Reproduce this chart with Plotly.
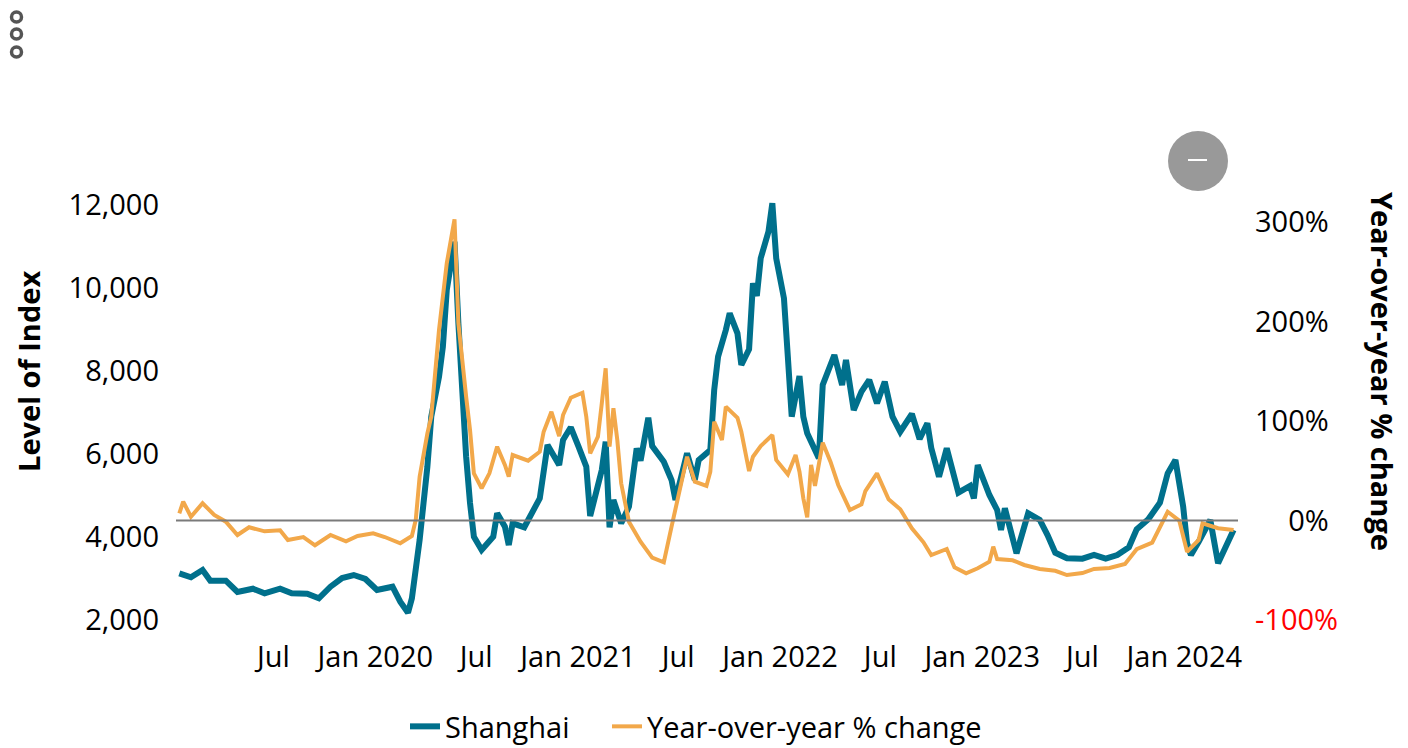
import pandas as pd
import plotly.graph_objects as go

FIRST_OBSERVATION = "2019-01-12"

# Weekly index readings: weeks counted from the first observation.
shanghai_weeks = [0,3,6,8,12,15,19,22,26,29,33,36,39,42,45,48,51,55,57,59,60,61,62,64,65,67,68,69,71,72,73,74,75,76,78,81,82,84,85,86,89,93,95,98,99,101,103,105,106,109,110,111,112,114,116,118,119,121,122,125,127,128,131,133,134,137,138,139,141,142,144,145,147,148,149,150,152,153,154,156,157,158,160,161,162,165,166,169,171,172,174,176,178,180,182,184,186,189,191,193,194,196,198,201,204,205,206,209,211,212,213,216,219,222,224,226,229,233,236,239,242,245,247,250,253,255,257,259,260,261,263,265,266,268,272]
shanghai_index = [3125,3029,3205,2947,2947,2675,2754,2643,2754,2643,2634,2523,2802,3012,3084,2988,2723,2802,2441,2176,2523,3205,3928,5694,6899,7863,8586,9952,11116,9149,7229,5935,4819,4007,3687,4007,4571,4248,3807,4330,4234,4932,6217,5735,6337,6643,6176,5694,4506,5614,6296,4234,4892,4330,4730,6137,5839,6875,6193,5814,5373,4892,6017,5373,5855,6096,7542,8344,8988,9390,8908,8144,8523,10113,9807,10716,11357,12041,10716,9752,8344,6899,7880,6899,6499,5896,7663,8385,7663,8265,7060,7501,7783,7222,7742,6899,6537,6964,6361,6740,6145,5453,6137,5067,5229,4932,5735,5012,4651,4169,4692,3607,4571,4410,4048,3622,3487,3477,3566,3477,3566,3752,4186,4427,4827,5535,5855,4730,3848,3566,3887,4248,4410,3366,4169]

# Year-over-year change in percent, on its own weekly index.
yoy_weeks = [0,1,3,6,9,12,15,18,22,26,28,32,35,39,43,46,50,53,57,60,61,62,64,65,67,69,71,72,74,75,76,78,80,82,84,85,86,90,93,94,96,98,99,101,104,105,106,108,109,110,111,112,113,114,116,119,122,125,127,129,131,133,136,137,138,140,141,144,145,147,148,150,153,154,157,159,160,161,162,163,164,166,168,170,173,176,177,180,183,186,189,192,194,198,200,203,206,209,210,211,215,218,222,226,229,233,236,240,244,247,251,255,258,260,263,264,268,272]
yoy_change = [7.2,18.9,3.8,17.3,5.5,-1.2,-14.6,-6.8,-10.9,-9.8,-19.6,-16.6,-24.9,-14.6,-20.9,-15.6,-12.9,-16.6,-22.9,-15.6,0.5,44,87.6,104.3,191.5,258.5,302.7,198.2,124.4,91,47.4,32.4,47.4,74.2,55.8,44,65.8,60.1,69.1,89.2,109.3,84.9,106,123.4,128.4,104.3,67.5,84.2,117.8,153,74.2,112.8,80.9,37.4,-1.2,-21.3,-37.4,-42,-6.2,30.7,64.1,39,34.7,49,99.3,80.9,114.4,103.3,89.2,49.7,64.1,74.9,85.9,60.8,46.4,65.8,49,22.3,3.2,55.8,34.7,78.2,59.1,35.7,10.6,16.3,29.6,47.4,21.3,11.3,-7.8,-21.9,-34.7,-28.6,-47,-53.1,-48,-41.4,-26.3,-38.7,-40,-44.7,-48.7,-50.5,-54.8,-52.8,-48.7,-47.7,-43.7,-28.9,-22.3,8.8,-0.2,-31.4,-19.6,-2.8,-7.8,-9.5]

date_ticks = ["2019-07-01","2020-01-01","2020-07-01","2021-01-01","2021-07-01","2022-01-01","2022-07-01","2023-01-01","2023-07-01","2024-01-01"]
date_labels = ["Jul","Jan 2020","Jul","Jan 2021","Jul","Jan 2022","Jul","Jan 2023","Jul","Jan 2024"]
index_ticks = [2000,4000,6000,8000,10000,12000]
index_labels = ["2,000","4,000","6,000","8,000","10,000","12,000"]
change_ticks = [-100,0,100,200,300]
change_labels = ['<span style="color:#ff0000">-100%</span>',"\u2007\u20070%","100%","200%","300%"]

WIDTH, HEIGHT = 1408, 748
PLOT_LEFT, PLOT_RIGHT, PLOT_TOP, PLOT_BOTTOM = 176, 1238, 200, 620
TEAL, AMBER, GREY = "#00708c", "#f2a84a", "#7a7a7a"
FONT = "Open Sans"
TEXT_SIZE = 29


def px(x):
    """Page pixel column to paper coordinate."""
    return (x - PLOT_LEFT) / (PLOT_RIGHT - PLOT_LEFT)


def py(y):
    """Page pixel row to paper coordinate."""
    return (PLOT_BOTTOM - y) / (PLOT_BOTTOM - PLOT_TOP)


def weekly_dates(weeks):
    return pd.Timestamp(FIRST_OBSERVATION) + pd.to_timedelta(weeks, unit="W")


fig = go.Figure()
fig.add_trace(go.Scatter(x=weekly_dates(shanghai_weeks), y=shanghai_index, mode="lines", name="Shanghai",
                         line=dict(color=TEAL, width=6), legend="legend"))
fig.add_trace(go.Scatter(x=weekly_dates(yoy_weeks), y=yoy_change, mode="lines", name="Year-over-year % change",
                         line=dict(color=AMBER, width=4), yaxis="y2", legend="legend2"))

shapes = [dict(type="line", xref="paper", x0=0, x1=1, yref="y2", y0=0, y1=0,
               line=dict(color=GREY, width=2), layer="above")]
# Menu glyph: three small rings stacked in the corner.
for cy in (17, 34, 52):
    shapes.append(dict(type="circle", xref="paper", yref="paper", x0=px(11.5), x1=px(21.5), y0=py(cy - 5), y1=py(cy + 5),
                       line=dict(color="#555555", width=3.5), fillcolor="rgba(0,0,0,0)"))
# Collapse button: grey disc with a white minus.
shapes.append(dict(type="circle", xref="paper", yref="paper", x0=px(1168), x1=px(1228), y0=py(131), y1=py(191),
                   line=dict(width=0), fillcolor="#999999"))
shapes.append(dict(type="line", xref="paper", yref="paper", x0=px(1188), x1=px(1207), y0=py(160), y1=py(160),
                   line=dict(color="#ffffff", width=2)))

legend_common = dict(orientation="h", xanchor="left", yanchor="bottom", y=py(752),
                     font=dict(family=FONT, size=TEXT_SIZE, color="#000000"), bgcolor="rgba(0,0,0,0)")

axis_titles = [
    dict(text="<b>Level of Index</b>", x=px(28), y=py(372), textangle=-90),
    dict(text="<b>Year-over-year % change</b>", x=px(1383), y=py(371), textangle=90),
]
annotations = [dict(xref="paper", yref="paper", xanchor="center", yanchor="middle", showarrow=False,
                    font=dict(family=FONT, size=TEXT_SIZE, color="#000000"), **title) for title in axis_titles]

fig.update_layout(
    width=WIDTH, height=HEIGHT,
    margin=dict(l=PLOT_LEFT, r=WIDTH - PLOT_RIGHT, t=PLOT_TOP, b=HEIGHT - PLOT_BOTTOM, autoexpand=False),
    paper_bgcolor="#ffffff", plot_bgcolor="#ffffff",
    font=dict(family=FONT, size=TEXT_SIZE, color="#000000"),
    showlegend=True,
    legend=dict(x=px(405), **legend_common),
    legend2=dict(x=px(607), **legend_common),
    shapes=shapes,
    annotations=annotations,
    xaxis=dict(type="date", range=["2019-01-06", "2024-04-07"], tickmode="array", tickvals=date_ticks,
               ticktext=date_labels, showgrid=False, zeroline=False, showline=False, ticks="", ticklabelstandoff=17),
    yaxis=dict(range=[2000, 12120], tickmode="array", tickvals=index_ticks, ticktext=index_labels,
               showgrid=False, zeroline=False, showline=False, ticks="", ticklabelstandoff=16),
    yaxis2=dict(range=[-100, 322.1], overlaying="y", side="right", tickmode="array", tickvals=change_ticks,
                ticktext=change_labels, showgrid=False, zeroline=False, showline=False, ticks="", ticklabelstandoff=16),
)

fig.write_html("out.html")
